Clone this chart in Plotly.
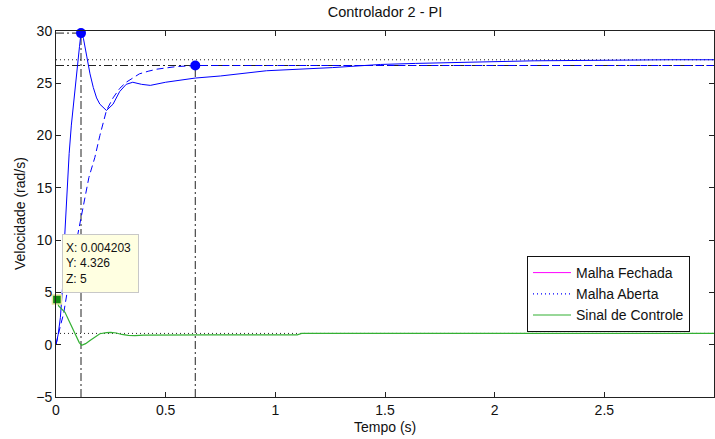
import plotly.graph_objects as go

# ---- data ----
t_fech = [0, 0.01, 0.02, 0.03, 0.04, 0.05, 0.06, 0.07, 0.08, 0.09, 0.10, 0.107, 0.114, 0.125, 0.14, 0.155,
          0.17, 0.185, 0.2, 0.23, 0.26, 0.29, 0.32, 0.35, 0.39, 0.43, 0.5, 0.635, 0.75, 0.96, 1.26, 1.38,
          1.48, 1.64, 1.86, 2.18, 2.8, 3.0]
y_fech = [0, 1.0, 2.6, 5.5, 10.5, 14.5, 18.3, 21.0, 23.2, 25.0, 26.9, 28.5, 29.8, 29.3, 27.6, 25.9,
          24.6, 23.6, 23.0, 22.4, 23.0, 24.2, 24.9, 25.1, 24.9, 24.8, 25.1, 25.5, 25.7, 26.2, 26.5, 26.67,
          26.8, 26.9, 27.0, 27.15, 27.25, 27.25]

t_ref = [0, 0.01, 0.02, 0.035, 0.05, 0.07, 0.085, 0.1, 0.115, 0.13, 0.15, 0.177, 0.2, 0.23, 0.26,
         0.29, 0.32, 0.35, 0.38, 0.42, 0.46, 0.55, 0.65, 0.8, 1.0, 3.0]
y_ref = [0, 1.0, 1.8, 3.0, 5.0, 7.5, 9.0, 10.6, 12.4, 14.1, 16.0, 17.9, 20.0, 22.4, 23.6,
         24.5, 25.1, 25.5, 25.9, 26.15, 26.35, 26.6, 26.7, 26.7, 26.7, 26.7]

t_ctrl = [0.004203, 0.012, 0.041, 0.064, 0.086, 0.106, 0.117, 0.135, 0.155, 0.18, 0.2, 0.23, 0.25,
          0.275, 0.3, 0.33, 0.36, 0.4, 0.5, 0.7, 1.1, 1.12, 3.0]
y_ctrl = [4.326, 3.7, 3.1, 2.1, 1.0, 0.2, -0.05, 0.1, 0.4, 0.8, 1.05, 1.15, 1.18,
          1.12, 0.98, 0.9, 0.86, 0.92, 0.95, 0.95, 0.95, 1.08, 1.08]

ref_final = [27.25, 27.25]
ctrl_final = [1.08, 1.08]
t_span = [0, 3]

peak_t, peak_y = 0.114, 29.8
settle_t, settle_y = 0.635, 26.7
ymin = -5

tip_x, tip_y, tip_z = 0.004203, 4.326, 5

x_ticks = [0, 0.5, 1, 1.5, 2, 2.5, 3]
x_tick_labels = ["0", "0.5", "1", "1.5", "2", "2.5", "3"]
y_ticks = [-5, 0, 5, 10, 15, 20, 25, 30]

legend_names = ["Malha Fechada", "Malha Aberta", "Sinal de Controle"]

# ---- styles ----
BLUE = "#0000ff"
GREEN = "#33b033"
DK = "#222222"
FONT = "Liberation Sans, Arial, sans-serif"
DASHDOT = "8px,3px,2px,3px"
DOT = "1px,3px"
DASH = "7px,4px"

fig = go.Figure()

# dotted reference lines
fig.add_trace(go.Scatter(x=t_span, y=ref_final, mode="lines", showlegend=False,
                         line=dict(color=DK, width=1, dash=DOT), hoverinfo="skip"))
fig.add_trace(go.Scatter(x=t_span, y=ctrl_final, mode="lines", showlegend=False,
                         line=dict(color=DK, width=1, dash=DOT), hoverinfo="skip"))

# dash-dot guide lines
fig.add_trace(go.Scatter(x=[t_span[0], t_span[1]], y=[settle_y, settle_y], mode="lines", showlegend=False,
                         line=dict(color=DK, width=1, dash=DASHDOT), hoverinfo="skip"))
fig.add_trace(go.Scatter(x=[t_span[0], peak_t], y=[peak_y, peak_y], mode="lines", showlegend=False,
                         line=dict(color=DK, width=1, dash=DASHDOT), hoverinfo="skip"))
fig.add_trace(go.Scatter(x=[peak_t, peak_t], y=[ymin, peak_y], mode="lines", showlegend=False,
                         line=dict(color=DK, width=1, dash=DASHDOT), hoverinfo="skip"))
fig.add_trace(go.Scatter(x=[settle_t, settle_t], y=[ymin, settle_y], mode="lines", showlegend=False,
                         line=dict(color=DK, width=1, dash=DASHDOT), hoverinfo="skip"))

# responses
fig.add_trace(go.Scatter(x=t_ref, y=y_ref, mode="lines", showlegend=False,
                         line=dict(color=BLUE, width=1, dash=DASH)))
fig.add_trace(go.Scatter(x=t_fech, y=y_fech, mode="lines", showlegend=False,
                         line=dict(color=BLUE, width=1)))
fig.add_trace(go.Scatter(x=t_ctrl, y=y_ctrl, mode="lines", showlegend=False,
                         line=dict(color=GREEN, width=1.2)))

# markers
fig.add_trace(go.Scatter(x=[peak_t, settle_t], y=[peak_y, settle_y], mode="markers", showlegend=False,
                         marker=dict(color=BLUE, size=10, symbol="circle"), cliponaxis=False))
fig.add_trace(go.Scatter(x=[tip_x], y=[tip_y], mode="markers", showlegend=False,
                         marker=dict(color="#108a10", size=9, symbol="square",
                                     line=dict(color="#e8e8a0", width=1.5)), cliponaxis=False))

# legend-only entries
fig.add_trace(go.Scatter(x=[None], y=[None], mode="lines", name=legend_names[0],
                         line=dict(color="#ff00ff", width=1)))
fig.add_trace(go.Scatter(x=[None], y=[None], mode="lines", name=legend_names[1],
                         line=dict(color=BLUE, width=1.3, dash=DOT)))
fig.add_trace(go.Scatter(x=[None], y=[None], mode="lines", name=legend_names[2],
                         line=dict(color=GREEN, width=1.2)))

# data tip
fig.add_annotation(xref="paper", yref="paper", x=(62 - 56) / 658, y=(397 - 234) / 366,
                   xanchor="left", yanchor="top", align="left", valign="middle", showarrow=False,
                   width=69, height=51,
                   text=f"X: {tip_x}<br>Y: {tip_y}<br>Z: {tip_z}",
                   font=dict(family=FONT, size=12, color="#111"),
                   bgcolor="#ffffe1", bordercolor="#c8c8c8", borderwidth=1, borderpad=3)

# axis titles as annotations (fixed positions)
fig.add_annotation(xref="paper", yref="paper", x=0.5, y=-(427 - 397) / 366,
                   xanchor="center", yanchor="middle", showarrow=False,
                   text="Tempo (s)", font=dict(family=FONT, size=14, color="#111"))
fig.add_annotation(xref="paper", yref="paper", x=-(56 - 20) / 658, y=0.5,
                   xanchor="center", yanchor="middle", showarrow=False, textangle=-90,
                   text="Velocidade (rad/s)", font=dict(family=FONT, size=14, color="#111"))

axis_common = dict(showline=True, linecolor="#222", linewidth=1, mirror="ticks",
                   ticks="inside", ticklen=5, tickcolor="#222", showgrid=False, zeroline=False,
                   automargin=False,
                   tickfont=dict(family=FONT, size=14, color="#111"))

fig.update_layout(
    width=715, height=439,
    margin=dict(l=56, r=1, t=31, b=42),
    paper_bgcolor="white", plot_bgcolor="white",
    font=dict(family=FONT, size=14, color="#111"),
    title=dict(text="Controlador 2 - PI", x=(56 + 714) / 2 / 715, xref="container", xanchor="center",
               y=1 - 12 / 439, yref="container", yanchor="middle", automargin=False,
               font=dict(family=FONT, size=14.5, color="#111")),
    xaxis=dict(range=[0, 3], tickvals=x_ticks, ticktext=x_tick_labels, **axis_common),
    yaxis=dict(range=[-5, 30], tickvals=y_ticks, **axis_common),
    legend=dict(x=(527 - 56) / 658, y=(397 - 256) / 366, xanchor="left", yanchor="top",
                bgcolor="white", bordercolor="#111", borderwidth=1, itemwidth=38,
                font=dict(family=FONT, size=14, color="#111"), tracegroupgap=0),
    showlegend=True,
)

fig.write_html("out.html", config={"displayModeBar": False},
               post_script="document.body.style.margin='0';document.body.style.overflow='hidden';")
